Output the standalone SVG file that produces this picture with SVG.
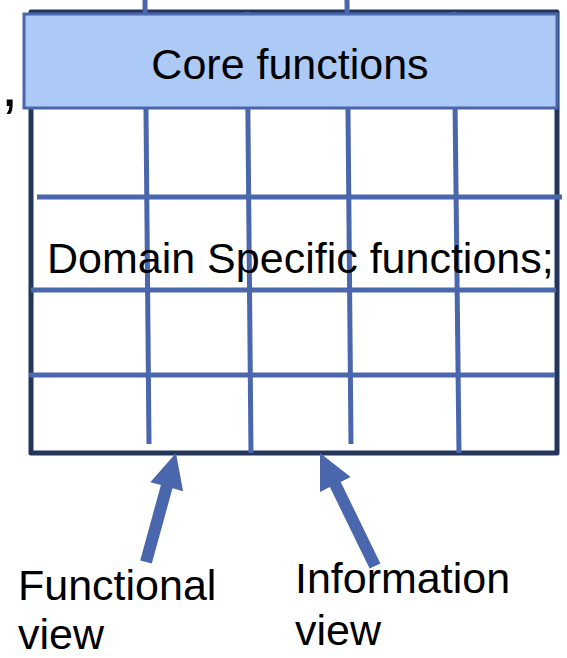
<svg xmlns="http://www.w3.org/2000/svg" width="567" height="658" viewBox="0 0 567 658">
  <style>
    .frame { fill: none; stroke: #24345a; stroke-width: 5; stroke-linejoin: round; }
    .grid { stroke: #4a66ac; stroke-width: 5; fill: none; }
    .core { fill: #adc9f5; stroke: #4a66ac; stroke-width: 3; }
    .label { font-family: "Liberation Sans", Arial, sans-serif; font-size: 43px; fill: #000; }
    .arrow { fill: #4a66ac; }
  </style>

  <g id="frame">
    <path class="frame" d="M31,12 L557,12 L557,453 L31,453 Z"/>
  </g>

  <g id="grid">
    <line class="grid" x1="145" y1="0" x2="149" y2="444"/>
    <line class="grid" x1="247" y1="12" x2="251" y2="453"/>
    <line class="grid" x1="347" y1="0" x2="351" y2="444"/>
    <line class="grid" x1="454" y1="12" x2="459" y2="453"/>
    <line class="grid" x1="37" y1="197" x2="562" y2="197"/>
    <line class="grid" x1="31" y1="290" x2="556" y2="290"/>
    <line class="grid" x1="29" y1="375" x2="555" y2="375"/>
  </g>

  <g id="core-functions">
    <rect class="core" x="24" y="14" width="533" height="94"/>
    <text class="label" x="290" y="79" text-anchor="middle">Core functions</text>
  </g>

  <g id="domain-functions">
    <text class="label" x="47" y="273">Domain Specific functions;</text>
  </g>

  <text class="label" x="1" y="106" style="font-size:62px">,</text>

  <g id="connectors">
    <!-- functional view arrow -->
    <polygon class="arrow" points="176,453 183.1,491.2 172.5,488.3 151.8,563.6 140.2,560.4 160.9,485.1 150.3,482.2"/>
    <!-- information view arrow -->
    <polygon class="arrow" points="320,453 350.6,477.1 340.7,481.9 380.4,563.4 369.6,568.6 329.9,487.1 320,491.9"/>
  </g>

  <g id="functional-view">
    <text class="label" x="18" y="600">Functional</text>
    <text class="label" x="18" y="649">view</text>
  </g>

  <g id="information-view">
    <text class="label" x="295" y="593">Information</text>
    <text class="label" x="295" y="645">view</text>
  </g>
</svg>
